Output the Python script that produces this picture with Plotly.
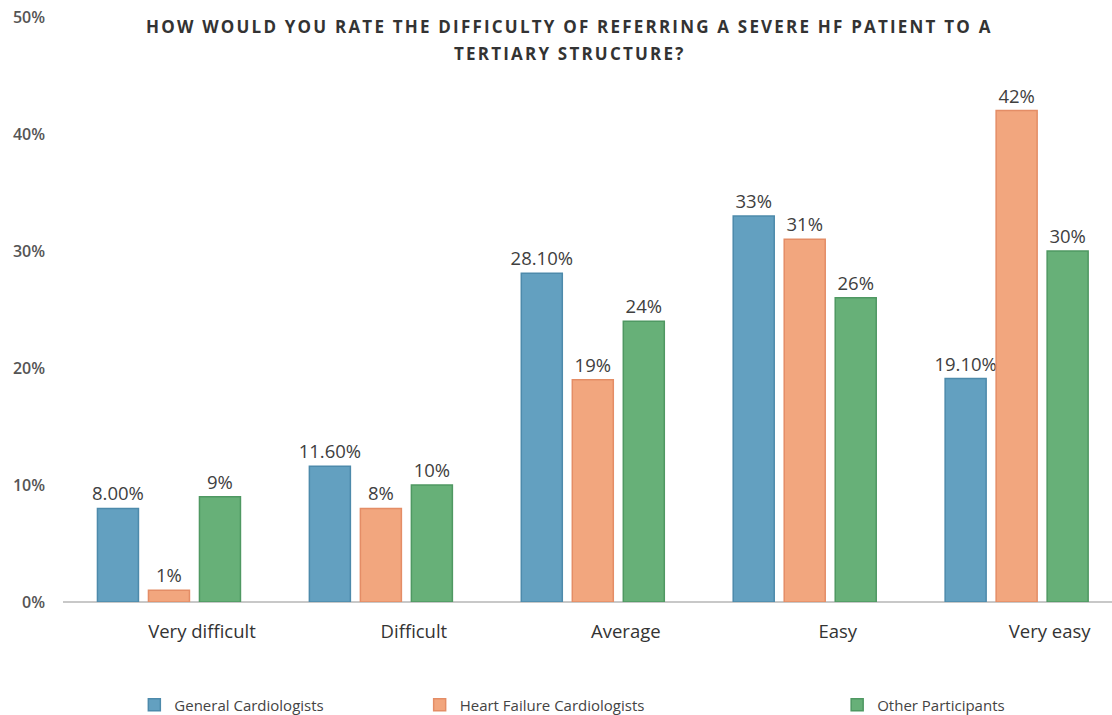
import plotly.graph_objects as go

categories = ["Very difficult", "Difficult", "Average", "Easy", "Very easy"]
general_cardiologists = [8.00, 11.60, 28.10, 33, 19.10]
general_labels = ["8.00%", "11.60%", "28.10%", "33%", "19.10%"]
hf_cardiologists = [1, 8, 19, 31, 42]
hf_labels = ["1%", "8%", "19%", "31%", "42%"]
other_participants = [9, 10, 24, 26, 30]
other_labels = ["9%", "10%", "24%", "26%", "30%"]
y_ticks = [0, 10, 20, 30, 40, 50]
y_tick_labels = ["0%", "10%", "20%", "30%", "40%", "50%"]
title_lines = ["HOW WOULD YOU RATE THE DIFFICULTY OF REFERRING A SEVERE HF PATIENT TO A",
               "TERTIARY STRUCTURE?"]

series = [
    ("General Cardiologists", general_cardiologists, general_labels, "#63a0c0", "#4d8aab", "legend", 0.068),
    ("Heart Failure Cardiologists", hf_cardiologists, hf_labels, "#f2a67e", "#e48d66", "legend2", 0.34),
    ("Other Participants", other_participants, other_labels, "#67b078", "#4f9862", "legend3", 0.738),
]

font_main = "Open Sans, Lato, sans-serif"

fig = go.Figure()
layout_legends = {}
for name, vals, labels, fill, edge, leg, lx in series:
    fig.add_trace(go.Bar(
        name=name, x=categories, y=vals, text=labels,
        textposition="outside", cliponaxis=False, constraintext="none",
        textfont=dict(size=18.5, color="#404040", family=font_main),
        marker=dict(color=fill, line=dict(color=edge, width=1.5)),
        legend=leg,
    ))
    layout_legends[leg] = dict(
        x=lx, y=-0.176, xanchor="left", yanchor="middle", orientation="h",
        font=dict(size=15, color="#444444", family=font_main),
        bgcolor="rgba(0,0,0,0)",
    )

# two-line heading, each line placed on its own
title_annotations = [
    dict(text=f'<span style="letter-spacing:2.2px">{line}</span>',
         x=0.483, y=ypos, xref="paper", yref="paper", xanchor="center", yanchor="middle",
         showarrow=False,
         font=dict(size=17, color="#333333", family=font_main, weight="bold"))
    for line, ypos in zip(title_lines, [0.983, 0.937])
]

fig.update_layout(
    width=1112, height=715,
    margin=dict(l=63, r=0, t=17, b=113, autoexpand=False),
    paper_bgcolor="white", plot_bgcolor="white",
    barmode="group", bargap=0.278, bargroupgap=0.196,
    showlegend=True,
    **layout_legends,
    annotations=title_annotations,
)

fig.update_xaxes(
    range=[-0.5, 4.45], showgrid=False, zeroline=False,
    showline=False, ticks="", ticklabelshift=33, ticklabelstandoff=16,
    tickfont=dict(size=18.5, color="#333333", family=font_main),
)
fig.update_yaxes(
    range=[0, 50], tickvals=y_ticks, ticktext=y_tick_labels,
    showgrid=False, zeroline=True, zerolinecolor="#c8c8c8", zerolinewidth=2,
    showline=False, ticks="", ticklabelstandoff=17,
    tickfont=dict(size=16, color="#555555", family=font_main, weight=600),
)

fig.write_html("out.html")
